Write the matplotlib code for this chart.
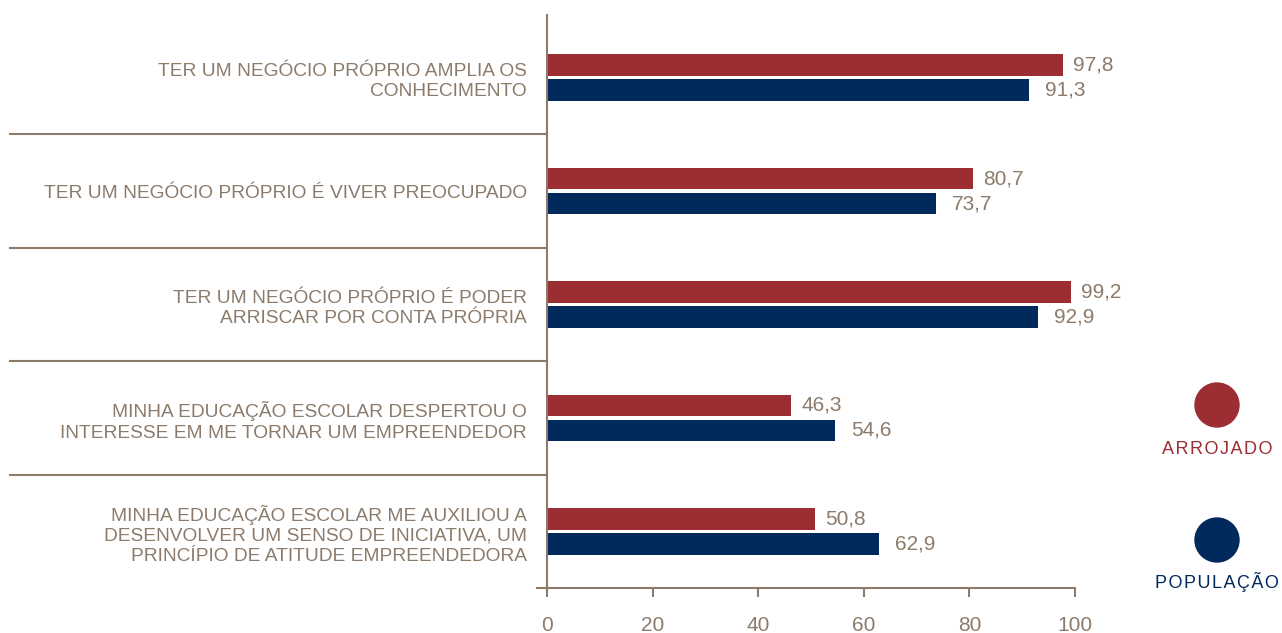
import matplotlib.pyplot as plt
from matplotlib.patches import Ellipse
import numpy as np

# %%
# Data
categorias = [
    "TER UM NEGÓCIO PRÓPRIO AMPLIA OS\nCONHECIMENTO",
    "TER UM NEGÓCIO PRÓPRIO É VIVER PREOCUPADO",
    "TER UM NEGÓCIO PRÓPRIO É PODER\nARRISCAR POR CONTA PRÓPRIA",
    "MINHA EDUCAÇÃO ESCOLAR DESPERTOU O\nINTERESSE EM ME TORNAR UM EMPREENDEDOR",
    "MINHA EDUCAÇÃO ESCOLAR ME AUXILIOU A\nDESENVOLVER UM SENSO DE INICIATIVA, UM\nPRINCÍPIO DE ATITUDE EMPREENDEDORA",
]
arrojado = [97.8, 80.7, 99.2, 46.3, 50.8]
populacao = [91.3, 73.7, 92.9, 54.6, 62.9]
xticks = [0, 20, 40, 60, 80, 100]

RED = "#9b2d33"
NAVY = "#002a5c"
TAUPE = "#8c7b6b"
FONT = ["Liberation Sans", "DejaVu Sans"]

# %%
W, H = 1282, 633
fig = plt.figure(figsize=(W / 100, H / 100), dpi=100)
ax = fig.add_axes([547 / W, 1 - 588 / H, (1075 - 547) / W, (588 - 15) / H])

y = np.arange(len(categorias))
bh = 0.19
off = 0.11
ax.barh(y - off, arrojado, height=bh, color=RED)
ax.barh(y + off, populacao, height=bh, color=NAVY)

def fmt(v):
    return f"{v:.1f}".replace(".", ",")

for yi, a, p in zip(y, arrojado, populacao):
    ax.annotate(fmt(a), (a, yi - off), xytext=(10, 0), textcoords="offset pixels",
                va="center", ha="left", color=TAUPE, fontsize=15, family=FONT)
    ax.annotate(fmt(p), (p, yi + off), xytext=(16, 0), textcoords="offset pixels",
                va="center", ha="left", color=TAUPE, fontsize=15, family=FONT)

ax.set_xlim(0, 100)
ax.set_ylim(4.5, -0.553)
ax.set_xticks(xticks)
ax.set_xticklabels([str(t) for t in xticks], family=FONT, fontsize=15, color=TAUPE)
ax.tick_params(axis="x", direction="out", length=6.5, width=1.5, color=TAUPE, pad=14)

ax.set_yticks(y)
ax.set_yticklabels(categorias, family=FONT, fontsize=13.8, color=TAUPE,
                   ha="right", linespacing=1.25)
ax.tick_params(axis="y", length=0, pad=14.5)

for s in ["top", "right"]:
    ax.spines[s].set_visible(False)
for s in ["left", "bottom"]:
    ax.spines[s].set_color(TAUPE)
    ax.spines[s].set_linewidth(1.5)

# separators between categories
trans = ax.get_yaxis_transform()
for b in y[:-1] + 0.5:
    ax.plot([-537 / 528, 0], [b, b], transform=trans, color=TAUPE, lw=1.5, clip_on=False)
# small extension of x axis left of zero
ax.plot([-10 / 528, 0], [0, 0], transform=ax.transAxes, color=TAUPE, lw=1.5, clip_on=False)

# %%
# legend
for cy, ty, col, lab in [(405, 450, RED, "ARROJADO"), (540, 582, NAVY, "POPULAÇÃO")]:
    fig.add_artist(Ellipse((1217 / W, 1 - cy / H), 44 / W, 44 / H,
                           transform=fig.transFigure, color=col))
    fig.text(1217 / W, 1 - ty / H, "\u200a".join(lab), color=col, fontsize=13,
             ha="center", va="center", family=FONT)

fig.savefig("out.png", dpi=100)
